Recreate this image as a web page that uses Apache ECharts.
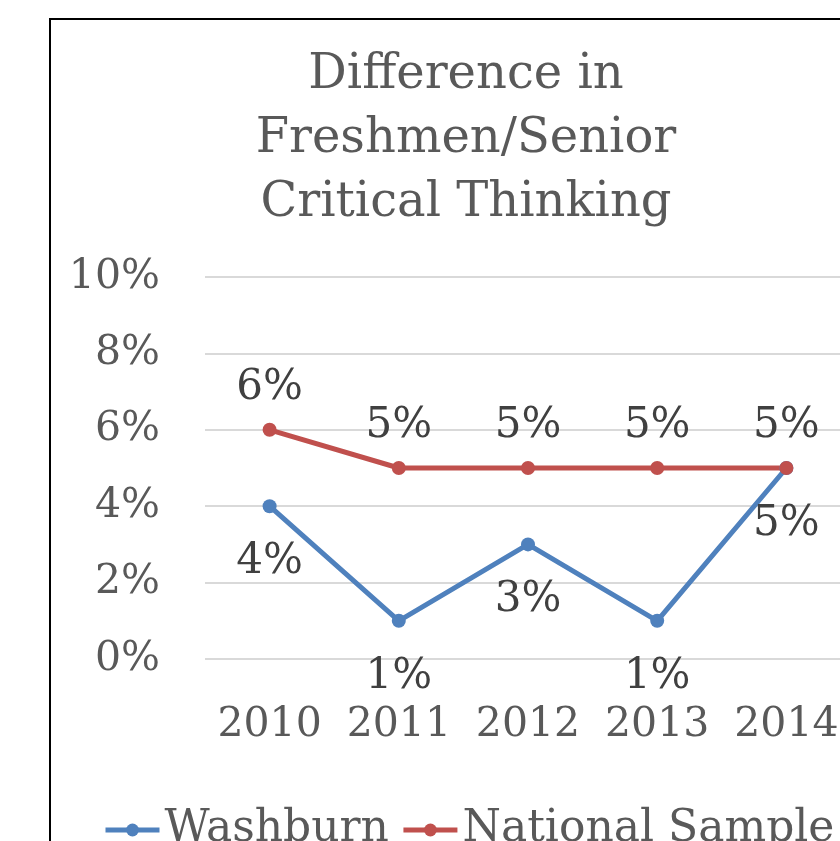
<!DOCTYPE html>
<html>
<head>
<meta charset="utf-8">
<script src="https://cdn.jsdelivr.net/npm/echarts@6/dist/echarts.min.js"></script>
<style>
  html, body { margin: 0; padding: 0; background: #fff; overflow: hidden; }
  #main { width: 860px; height: 900px; }
</style>
</head>
<body>
<div id="main"></div>
<script>
const years = ['2010', '2011', '2012', '2013', '2014']
const washburn = [0.04, 0.01, 0.03, 0.01, 0.05]
const national = [0.06, 0.05, 0.05, 0.05, 0.05]
const titleLines = ['Difference in', 'Freshmen/Senior', 'Critical Thinking']

const serif = '"DejaVu Serif", "Liberation Serif", serif'
const pct = v => Math.round(v * 100) + '%'

// the chart is cut off at the right and bottom, so the canvas is a bit larger than the window
const chart = echarts.init(document.getElementById('main'))

chart.setOption({
    animation: false,
    color: ['#4f81bd', '#c0504d'],
    graphic: [
        {
            type: 'rect',
            shape: { x: 50, y: 19, width: 900, height: 950 },
            style: { fill: 'none', stroke: '#000', lineWidth: 2 },
            silent: true
        },
        {
            type: 'text',
            x: 466,
            y: 44,
            style: {
                text: titleLines.join('\n'),
                align: 'center',
                verticalAlign: 'top',
                font: '48px ' + serif,
                lineHeight: 64,
                fill: '#595959'
            }
        }
    ],
    grid: { left: 205, top: 277, right: 9, bottom: 241 },
    xAxis: {
        type: 'category',
        data: years,
        axisLine: { show: false },
        axisTick: { show: false },
        axisLabel: { interval: 0, fontFamily: serif, fontSize: 41, color: '#595959', margin: 46 }
    },
    yAxis: {
        type: 'value',
        min: 0,
        max: 0.1,
        interval: 0.02,
        axisLabel: { fontFamily: serif, fontSize: 41, color: '#595959', margin: 45, formatter: pct },
        splitLine: { lineStyle: { color: '#d9d9d9', width: 2 } }
    },
    legend: {
        left: 103,
        top: 808,
        width: 780,
        padding: 0,
        itemWidth: 54,
        itemHeight: 16,
        itemGap: 12,
        lineStyle: { width: 5 },
        textStyle: { fontFamily: serif, fontSize: 44, lineHeight: 44, color: '#595959' },
        data: ['Washburn', 'National Sample']
    },
    series: [
        {
            name: 'Washburn',
            type: 'line',
            data: washburn,
            symbol: 'circle',
            symbolSize: 14,
            lineStyle: { width: 5 },
            label: {
                show: true, position: 'bottom', distance: 28,
                fontFamily: serif, fontSize: 42, color: '#404040',
                formatter: p => pct(p.value)
            }
        },
        {
            name: 'National Sample',
            type: 'line',
            data: national,
            symbol: 'circle',
            symbolSize: 14,
            lineStyle: { width: 5 },
            label: {
                show: true, position: 'top', distance: 14,
                fontFamily: serif, fontSize: 42, color: '#404040',
                formatter: p => pct(p.value)
            }
        }
    ]
})
</script>
</body>
</html>
